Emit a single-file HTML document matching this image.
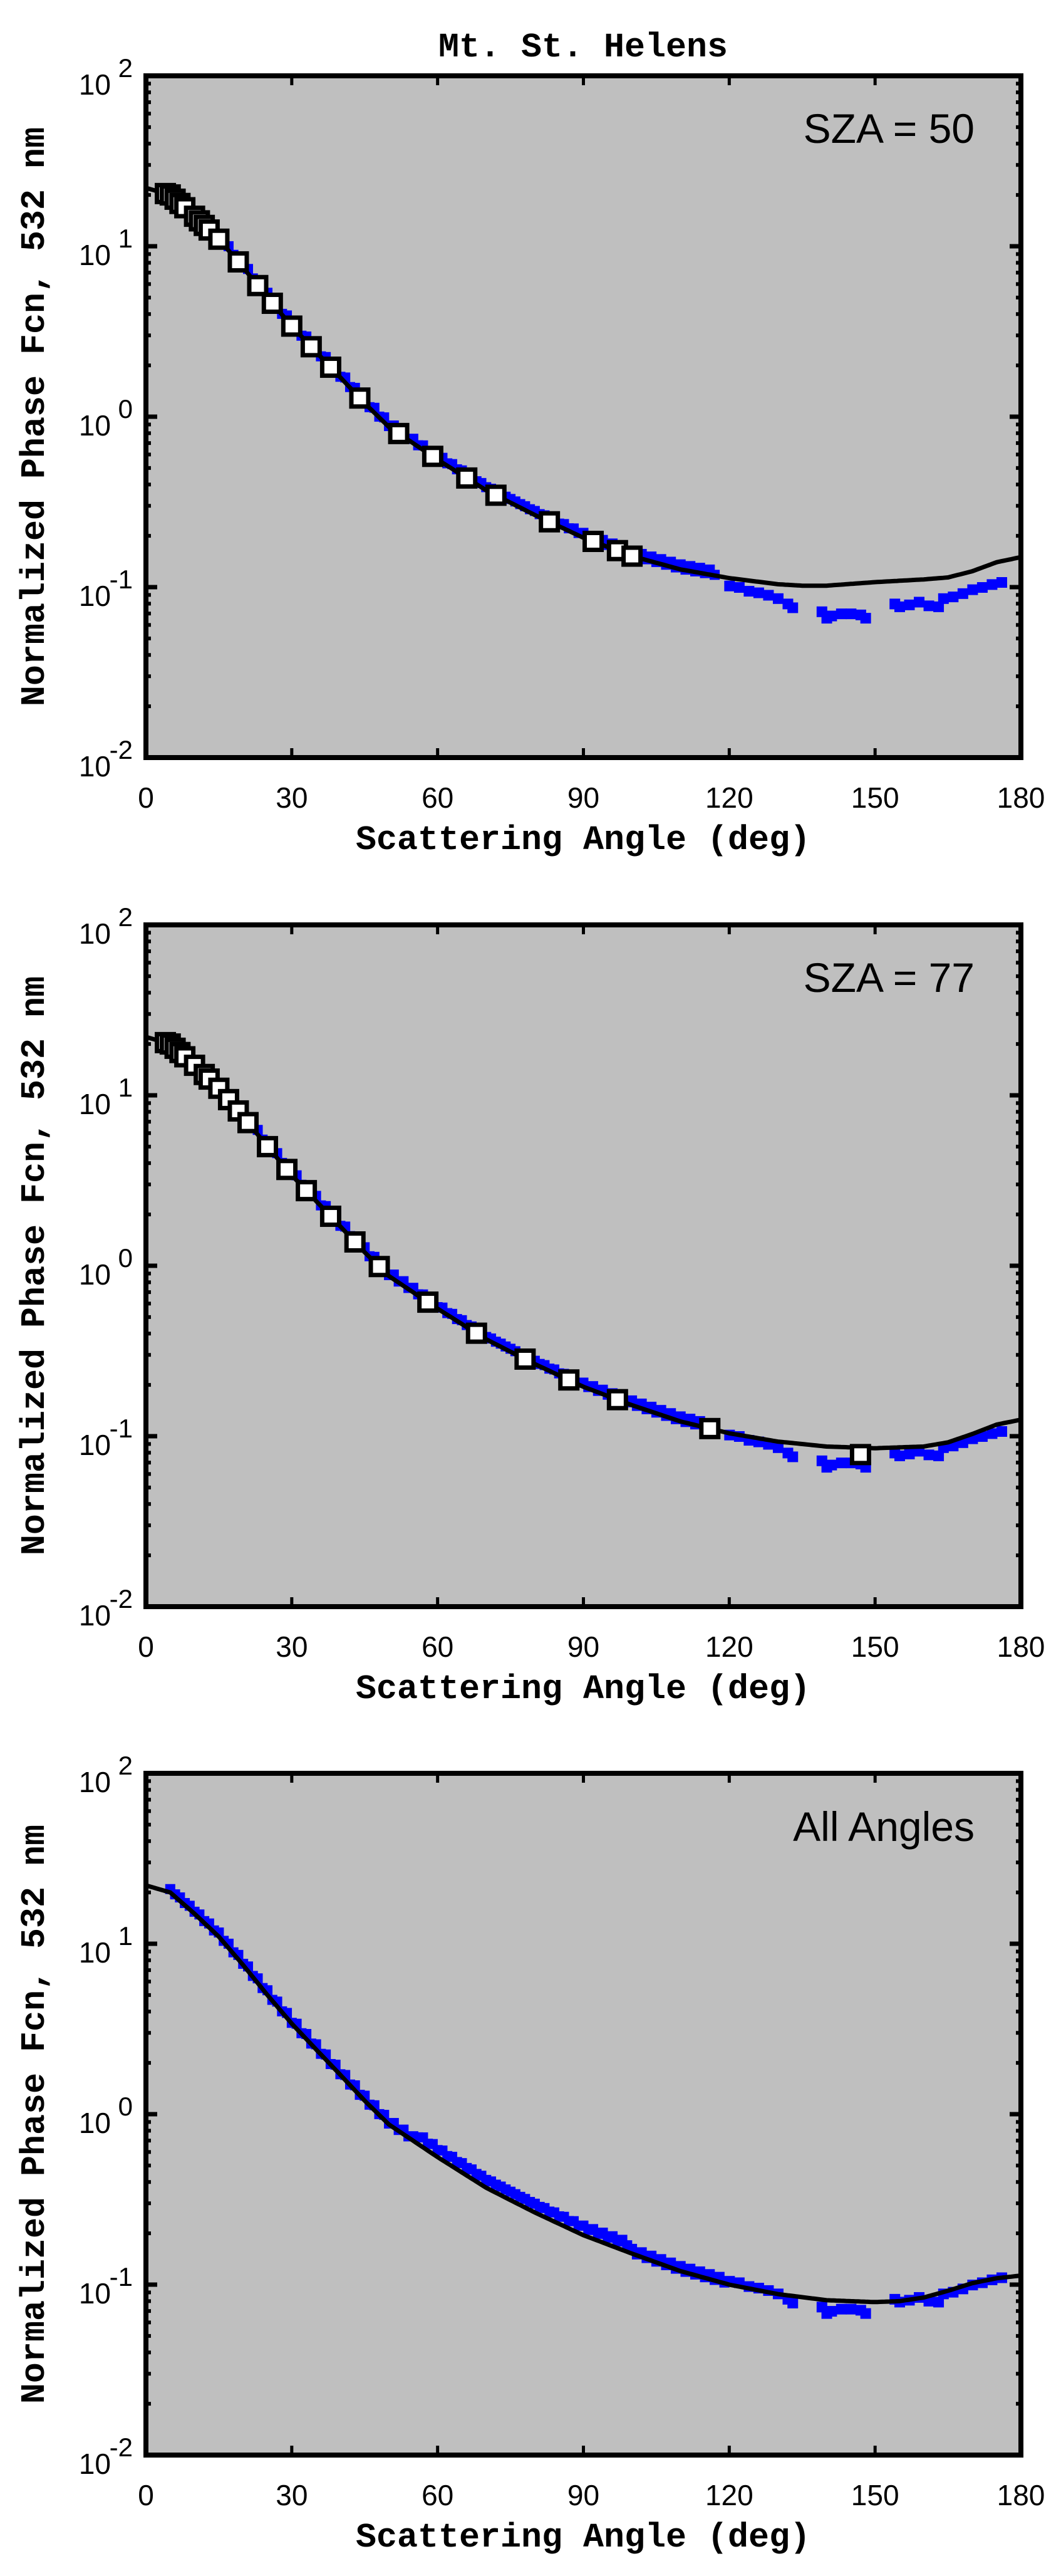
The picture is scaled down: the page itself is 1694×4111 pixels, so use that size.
<!DOCTYPE html>
<html><head><meta charset="utf-8">
<style>
html,body{margin:0;padding:0;background:#fff;}
svg{display:block;}
.tl{font-family:"Liberation Sans",sans-serif;font-size:46px;fill:#000;}
.sup{font-family:"Liberation Sans",sans-serif;font-size:42px;fill:#000;}
.lab{font-family:"Liberation Mono",monospace;font-weight:bold;font-size:55px;fill:#000;}
.ann{font-family:"Liberation Sans",sans-serif;font-size:66px;fill:#000;}
</style></head><body>
<svg id="s" xmlns="http://www.w3.org/2000/svg" width="1694" height="4111" viewBox="0 0 1694 4111">
<rect width="1694" height="4111" fill="#fff"/>
<text class="lab" x="931" y="90" text-anchor="middle">Mt. St. Helens</text>
<g id="p0"></g><g id="p1"></g><g id="p2"></g>
<g>
<text class="ann" x="1556" y="228" text-anchor="end">SZA = 50</text>
<text class="ann" x="1556" y="1583" text-anchor="end">SZA = 77</text>
<text class="ann" x="1556" y="2938" text-anchor="end">All Angles</text>
</g>
<g id="txt"></g>
</svg>
<script>
(function(){
var NS="http://www.w3.org/2000/svg";
var L=233,R=1630,H=1088,TOPS=[121,1476,2830];
function el(p,n,a,t){var e=document.createElementNS(NS,n);for(var k in a)e.setAttribute(k,a[k]);if(t!=null)e.textContent=t;p.appendChild(e);return e;}
function X(d){return L+d*(R-L)/180;}
function Y(top,v){return top+(2-Math.log10(v))*H/4;}
var base=[[0,22],[5,20],[10,15],[15,11],[20,7.5],[25,5],[30,3.4],[35,2.4],[40,1.7],[45,1.2],[50,0.87],[60,0.56],[70,0.37],[80,0.265],[90,0.195],[100,0.152]];
var tails=[
 [[110,0.127],[120,0.113],[130,0.104],[135,0.102],[140,0.102],[150,0.107],[160,0.111],[165,0.114],[170,0.124],[175,0.14],[180,0.15]],
 [[110,0.122],[120,0.104],[130,0.093],[140,0.087],[150,0.085],[160,0.087],[165,0.092],[170,0.103],[175,0.117],[180,0.125]],
 [[110,0.12],[120,0.1],[130,0.088],[140,0.081],[150,0.079],[155,0.08],[160,0.084],[165,0.092],[170,0.102],[175,0.109],[180,0.113]]];
function curveF(tab,d){for(var i=0;i<tab.length-1;i++){if(d<=tab[i+1][0]){var a=tab[i],b=tab[i+1],t=(d-a[0])/(b[0]-a[0]);return Math.pow(10,Math.log10(a[1])*(1-t)+Math.log10(b[1])*t);}}return tab[tab.length-1][1];}
var tailBlue=[[120,0.102],[122,0.1],[124,0.095],[126,0.093],[128,0.09],[130,0.086],[132,0.08],[133,0.076],[139,0.072],[140,0.066],[141,0.068],[143,0.07],[145,0.07],[147,0.069],[148,0.066],[154,0.08],[155,0.077],[157,0.079],[159,0.082],[161,0.078],[163,0.077],[164,0.086],[166,0.088],[168,0.092],[170,0.097],[172,0.1],[174,0.104],[176,0.107]];
var sq=[[4,5,6,7,8,10,11,12,13,15,19,23,26,30,34,38,44,52,59,66,72,83,92,97,100],
        [4,5,6,7,8,10,12,13,15,17,19,21,25,29,33,38,43,48,58,68,78,87,97,116,147],[]];
var txt=document.getElementById('txt');
for(var p=0;p<3;p++){
 var g=document.getElementById('p'+p),top=TOPS[p],bot=top+H;
 var tab=base.concat(tails[p]);
 el(g,'rect',{x:L,y:top,width:R-L,height:H,fill:'#bfbfbf'});
 var bf=function(d){var f=1.04; if(p==2&&d>55&&d<100)f=1.12; if(p==0&&d>60&&d<100)f=1.05; return curveF(tab,d)*f;};
 var endB=(p==2)?120:118;
 for(var d=5;d<endB;d+=1.0){var v=bf(d)*(1+0.03*Math.sin(d*3.1));el(g,'rect',{x:X(d)-8,y:Y(top,v)-8,width:16,height:16,fill:'#0000ff'});}
 for(var i=0;i<tailBlue.length;i++){var tb=tailBlue[i],v=tb[1];if(p==2)v*=1.03;el(g,'rect',{x:X(tb[0])-8,y:Y(top,v)-8,width:17,height:17,fill:'#0000ff'});}
 var pts=[];for(var d=0;d<=180;d+=0.5)pts.push(X(d).toFixed(1)+','+Y(top,curveF(tab,d)).toFixed(1));
 el(g,'polyline',{points:pts.join(' '),fill:'none',stroke:'#000','stroke-width':7});
 for(var i=0;i<sq[p].length;i++){var d=sq[p][i],v=curveF(tab,d);if(p==1&&d==147)v=0.078;el(g,'rect',{x:X(d)-13.5,y:Y(top,v)-13.5,width:27,height:27,fill:'#fff',stroke:'#000','stroke-width':7});}
 for(var e=-2;e<=2;e++){var y=Y(top,Math.pow(10,e));
   el(g,'line',{x1:L,x2:L+18,y1:y,y2:y,stroke:'#000','stroke-width':7});
   el(g,'line',{x1:R,x2:R-18,y1:y,y2:y,stroke:'#000','stroke-width':7});
   if(e<2)for(var m=2;m<=9;m++){var ym=Y(top,m*Math.pow(10,e));
     el(g,'line',{x1:L,x2:L+8,y1:ym,y2:ym,stroke:'#000','stroke-width':6});
     el(g,'line',{x1:R,x2:R-8,y1:ym,y2:ym,stroke:'#000','stroke-width':6});}
   el(txt,'text',{'class':'tl',x:177,y:y+30,'text-anchor':'end'},'10');
   el(txt,'text',{'class':'sup',x:212,y:y+2,'text-anchor':'end'},(e<0?'-':'')+Math.abs(e));
 }
 for(var d=30;d<180;d+=30){var x=X(d);
   el(g,'line',{x1:x,x2:x,y1:bot,y2:bot-15,stroke:'#000','stroke-width':5});
   el(g,'line',{x1:x,x2:x,y1:top,y2:top+15,stroke:'#000','stroke-width':5});}
 for(var d=0;d<=180;d+=30)el(txt,'text',{'class':'tl',x:X(d),y:bot+80,'text-anchor':'middle'},String(d));
 el(g,'rect',{x:L,y:top,width:R-L,height:H,fill:'none',stroke:'#000','stroke-width':8});
 el(txt,'text',{'class':'lab',x:931,y:bot+146,'text-anchor':'middle'},'Scattering Angle (deg)');
 var cy=(top+bot)/2;
 el(txt,'text',{'class':'lab',x:0,y:0,'text-anchor':'middle',transform:'translate(70,'+cy+') rotate(-90)'},'Normalized Phase Fcn, 532 nm');
}
})();
</script>
</body></html>
